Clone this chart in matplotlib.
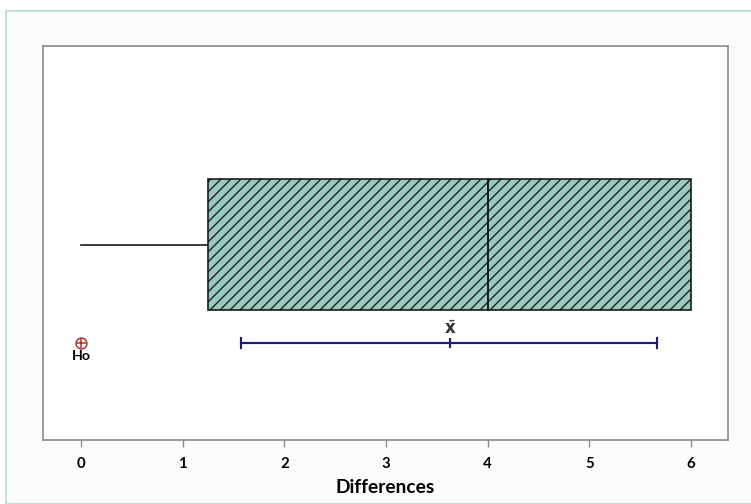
import matplotlib
matplotlib.use("Agg")
import matplotlib.pyplot as plt
from matplotlib.patches import Rectangle

# Data
whisker_low = 0.0
q1 = 1.25
median = 4.0
q3 = 6.0
whisker_high = 6.0
mean = 3.63
ci_low = 1.57
ci_high = 5.67
h0 = 0.0
xticks = [0, 1, 2, 3, 4, 5, 6]

DPI = 120
plt.rcParams['hatch.linewidth'] = 0.8
plt.rcParams['hatch.color'] = '#1a1a1a'
plt.rcParams['mathtext.fontset'] = 'dejavusans'

fig = plt.figure(figsize=(751 / DPI, 504 / DPI), dpi=DPI)
fig.patch.set_facecolor('white')
# outer frame
frame = Rectangle((6 / 751, 0), 1.0, 1 - 11 / 504, transform=fig.transFigure,
                  facecolor='#fbfdfd', edgecolor='#b8ddd6', linewidth=1.0, zorder=-10)
fig.patches.append(frame)

ax = fig.add_axes([43 / 751, 64 / 504, 685 / 751, 394 / 504])
ax.set_zorder(1)
ax.set_facecolor('white')
ax.set_xlim(-0.374, 6.364)
ax.set_ylim(0, 1)

box_c = 0.496
box_h = 0.332
ci_y = 0.246

# whiskers
ax.plot([whisker_low, q1], [box_c, box_c], color='#1a1a1a', lw=1.0, zorder=2)
if whisker_high > q3:
    ax.plot([q3, whisker_high], [box_c, box_c], color='#1a1a1a', lw=1.0, zorder=2)

# box
ax.add_patch(Rectangle((q1, box_c - box_h / 2), q3 - q1, box_h, facecolor='#98cbbd',
                       edgecolor='#1a1a1a', hatch='////', linewidth=1.0, zorder=3))
ax.plot([median, median], [box_c - box_h / 2, box_c + box_h / 2], color='#1a1a1a', lw=1.2, zorder=4)

# CI of mean
navy = '#1e1e78'
ax.plot([ci_low, ci_high], [ci_y, ci_y], color=navy, lw=1.3, zorder=3)
for xv in (ci_low, ci_high):
    ax.plot([xv, xv], [ci_y - 0.013, ci_y + 0.013], color=navy, lw=1.3, zorder=3)
ax.plot([mean, mean], [ci_y - 0.01, ci_y + 0.01], color=navy, lw=1.3, zorder=3)
ax.text(mean, ci_y + 0.014, r'$\bar{\mathbf{x}}$', ha='center', va='bottom', fontsize=10, color='#333333')

# H0
ax.plot([h0], [ci_y], marker='o', markersize=6.5, markerfacecolor='none',
        markeredgecolor='#b22a30', markeredgewidth=0.9, zorder=4)
ax.plot([h0], [ci_y], marker='+', markersize=6.5, color='#b22a30', markeredgewidth=0.9, zorder=4)
ax.text(h0, ci_y - 0.018, 'Ho', ha='center', va='top', fontsize=8.5, fontweight='bold',
        color='black', family='Lato')

# axes styling
for s in ax.spines.values():
    s.set_color('#8a8a8a')
    s.set_linewidth(1.0)
ax.set_yticks([])
ax.set_xticks(xticks)
ax.set_xticklabels([str(t) for t in xticks], fontsize=9, fontweight='bold', family='Lato')
ax.tick_params(axis='x', direction='out', length=4, color='#8a8a8a', pad=6)
ax.set_xlabel('Differences', fontsize=11.5, fontweight='bold', family='Lato', labelpad=5)

fig.savefig('out.png', dpi=DPI, facecolor=fig.get_facecolor())
